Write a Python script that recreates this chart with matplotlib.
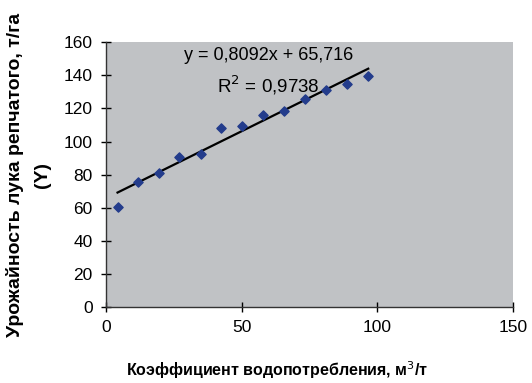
import matplotlib.pyplot as plt
import numpy as np

plt.rcParams['font.family'] = ['Liberation Sans', 'DejaVu Sans']

# water consumption coefficient vs onion yield
coef = [4.3, 11.9, 19.6, 27.0, 34.9, 42.5, 50.1, 57.8, 65.6, 73.3, 81.3, 88.9, 96.7]
yield_t = [60.6, 75.7, 80.7, 90.8, 92.4, 107.9, 109.5, 116.3, 118.3, 125.4, 131.0, 135.0, 139.5]

slope = 0.8092
intercept = 65.716
eq_text = "y = 0,8092x + 65,716"
r2_text = "R$^2$ = 0,9738"

xticks = [0, 50, 100, 150]
yticks = [0, 20, 40, 60, 80, 100, 120, 140, 160]

fig = plt.figure(figsize=(5.32, 3.83), dpi=100)
ax = fig.add_axes([0.199, 0.198, 0.765, 0.692])
ax.set_facecolor('#c0c2c5')

ax.scatter(coef, yield_t, marker='D', s=22, color='#233c8c', zorder=3)

xt = np.array([coef[0], coef[-1]])
ax.plot(xt, slope * xt + intercept, color='black', lw=1.6, zorder=2)

ax.text(60, 152, eq_text, ha='center', va='center', fontsize=13)
ax.text(60, 134, r2_text, ha='center', va='center', fontsize=13.5)

ax.set_xlim(0, 150)
ax.set_ylim(0, 160)
ax.set_xticks(xticks)
ax.set_yticks(yticks)
ax.tick_params(direction='inout', length=7, width=1, labelsize=12.5, colors='black', pad=6)
for s in ['top', 'right']:
    ax.spines[s].set_visible(False)
for s in ['left', 'bottom']:
    ax.spines[s].set_color('#333333')
    ax.spines[s].set_linewidth(1)

ax.set_xlabel("Коэффициент водопотребления, м$^3$/т", fontsize=11.5, fontweight='bold')
ax.xaxis.set_label_coords(0.42, -0.195)
ax.set_ylabel("Урожайность лука репчатого, т/га\n(Y)", fontsize=14, fontweight='bold',
              labelpad=9, linespacing=1.8)

fig.savefig('out.png', dpi=100)
